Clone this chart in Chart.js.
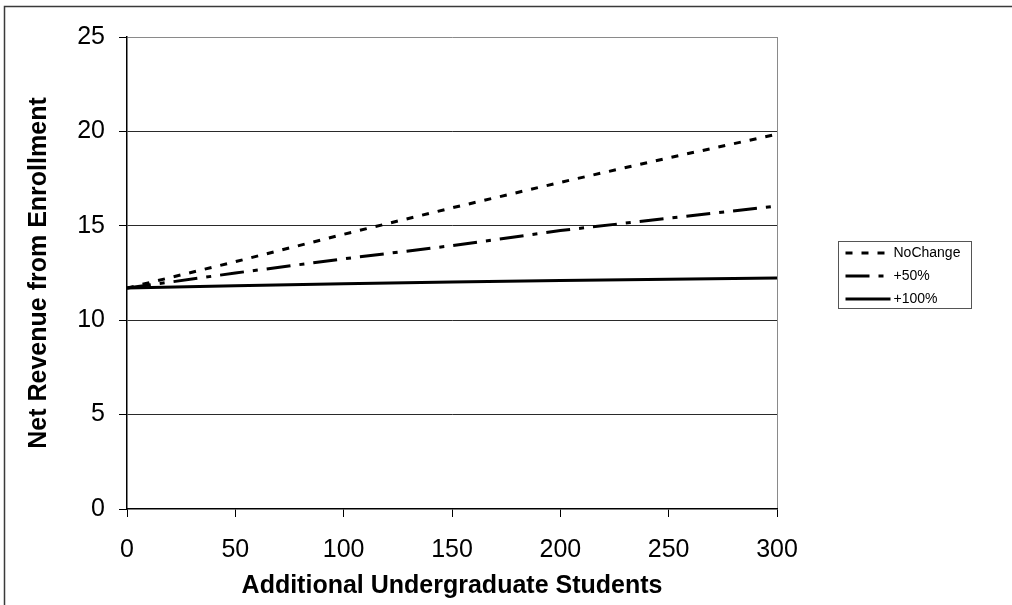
<!DOCTYPE html>
<html>
<head>
<meta charset="utf-8">
<script src="https://cdn.jsdelivr.net/npm/chart.js@4/dist/chart.umd.min.js"></script>
<style>
  html, body { margin: 0; padding: 0; background: #ffffff; }
  #wrap { width: 1012px; height: 605px; }
</style>
</head>
<body>
<div id="wrap"><canvas id="chart" width="1012" height="605"></canvas></div>
<script>
// Additional undergraduates enrolled
const students = [0, 50, 100, 150, 200, 250, 300];
// Net revenue from enrollment under each scenario
const noChange = [11.7, 13.1, 14.55, 15.95, 17.3, 18.6, 19.85];
const plus50 = [11.7, 12.5, 13.25, 13.95, 14.75, 15.4, 16.05];
const plus100 = [11.7, 11.82, 11.93, 12.02, 12.1, 12.17, 12.23];
const seriesNames = ['NoChange', '+50%', '+100%'];
const xTicks = [0, 50, 100, 150, 200, 250, 300];
const yTicks = [0, 5, 10, 15, 20, 25];

const FONT = "'Liberation Sans', Arial, Helvetica, sans-serif";

function points(values) {
  return students.map((s, i) => ({ x: s, y: values[i] }));
}

const dashes = [[7, 9], [24, 9, 5, 9], []];

const datasets = [noChange, plus50, plus100].map((vals, i) => ({
  label: seriesNames[i],
  data: points(vals),
  borderColor: '#000000',
  backgroundColor: '#000000',
  borderWidth: 3,
  borderDash: dashes[i],
  borderCapStyle: 'butt',
  pointRadius: 0,
  tension: 0,
  fill: false
}));

// Page frame and boxed legend
const decorations = {
  id: 'decorations',
  afterDraw(chart) {
    const ctx = chart.ctx;
    ctx.save();
    ctx.strokeStyle = '#3a3a3a';
    ctx.lineWidth = 1.5;
    ctx.beginPath();
    ctx.moveTo(4.5, 610);
    ctx.lineTo(4.5, 6.5);
    ctx.lineTo(1020, 6.5);
    ctx.stroke();

    // legend
    const bx = 838.5, by = 241.5, bw = 133, bh = 67;
    ctx.strokeStyle = '#555555';
    ctx.lineWidth = 1;
    ctx.strokeRect(bx, by, bw, bh);
    ctx.font = '14px ' + FONT;
    ctx.fillStyle = '#000000';
    ctx.textBaseline = 'middle';
    ctx.textAlign = 'left';
    chart.data.datasets.forEach((ds, i) => {
      const cy = by + 11.5 + i * 23;
      ctx.strokeStyle = '#000000';
      ctx.lineWidth = 3;
      ctx.setLineDash(ds.borderDash || []);
      ctx.beginPath();
      ctx.moveTo(bx + 7, cy);
      ctx.lineTo(bx + 52, cy);
      ctx.stroke();
      ctx.setLineDash([]);
      ctx.fillText(ds.label, bx + 55, cy);
    });
    ctx.restore();
  }
};

new Chart(document.getElementById('chart'), {
  type: 'line',
  data: { datasets },
  options: {
    responsive: false,
    animation: false,
    devicePixelRatio: 1,
    layout: { padding: { top: 37, right: 235, left: 0, bottom: 0 } },
    plugins: { legend: { display: false }, tooltip: { enabled: false } },
    scales: {
      x: {
        type: 'linear',
        min: 0,
        max: 300,
        afterFit(scale) { scale.height = 96; },
        afterBuildTicks(scale) { scale.ticks = xTicks.map(v => ({ value: v })); },
        ticks: { color: '#000', font: { family: FONT, size: 25 }, padding: 18, maxRotation: 0 },
        grid: {
          drawOnChartArea: true,
          color: c => (c.tick && c.tick.value === 300) ? '#8a8a8a' : 'rgba(0,0,0,0)',
          tickColor: '#000',
          tickLength: 8,
          lineWidth: 1
        },
        border: { color: '#000', width: 1.5 },
        title: {
          display: true,
          text: 'Additional Undergraduate Students',
          color: '#000',
          font: { family: FONT, size: 25, weight: 'bold' },
          padding: { top: 0, bottom: 4 }
        }
      },
      y: {
        min: 0,
        max: 25,
        afterFit(scale) { scale.width = 127; },
        afterBuildTicks(scale) { scale.ticks = yTicks.map(v => ({ value: v })); },
        ticks: { color: '#000', font: { family: FONT, size: 25 }, padding: 14 },
        grid: {
          color: c => {
            if (!c.tick) return 'rgba(0,0,0,0)';
            if (c.tick.value === 0) return 'rgba(0,0,0,0)';
            if (c.tick.value === 25) return '#8a8a8a';
            return '#2a2a2a';
          },
          tickColor: '#000',
          tickLength: 8,
          lineWidth: 1
        },
        border: { color: '#000', width: 1.5 },
        title: {
          display: true,
          text: 'Net Revenue from Enrollment',
          color: '#000',
          font: { family: FONT, size: 25, weight: 'bold' },
          padding: { top: 24, bottom: 0 }
        }
      }
    }
  },
  plugins: [decorations]
});
</script>
</body>
</html>
